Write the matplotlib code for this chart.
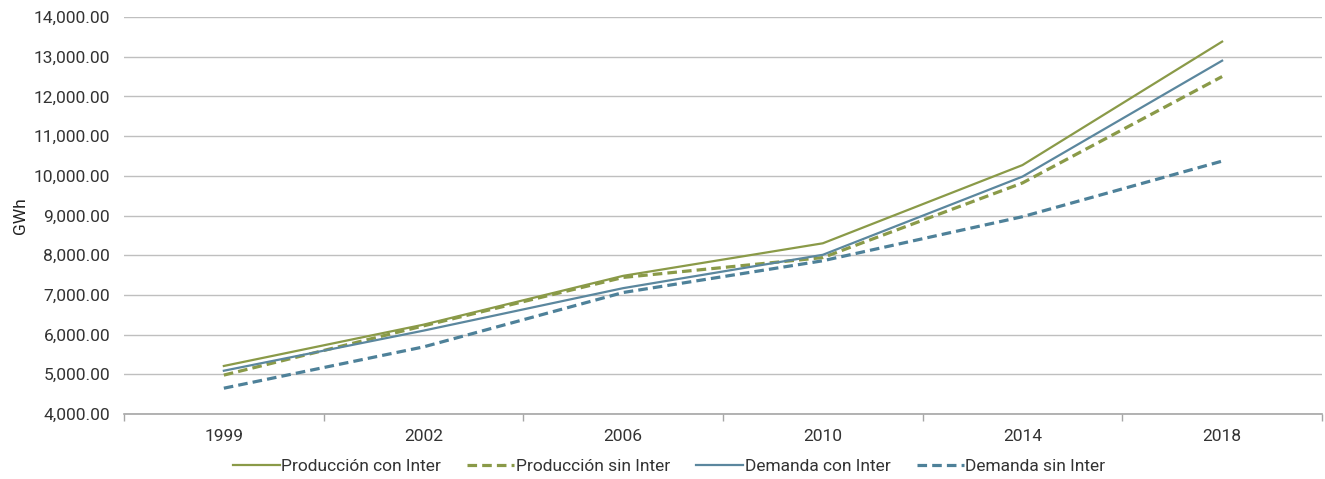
import matplotlib
matplotlib.use("Agg")
import numpy as np
from matplotlib import pyplot as plt
from matplotlib.ticker import FuncFormatter

# Datos
anios = ["1999", "2002", "2006", "2010", "2014", "2018"]
produccion_con = [5210, 6250, 7480, 8300, 10270, 13380]
produccion_sin = [4980, 6220, 7440, 7940, 9820, 12500]
demanda_con = [5090, 6100, 7170, 8010, 9980, 12900]
demanda_sin = [4650, 5690, 7060, 7860, 8970, 10370]

VERDE = "#8a9a48"
AZUL = "#5b879e"
AZUL_OSCURO = "#4e8199"

plt.rcParams["font.family"] = ["Roboto", "DejaVu Sans"]

fig = plt.figure(figsize=(13.25, 4.79), dpi=100)
ax = fig.add_axes([0.0936, 0.1357, 0.9041, 0.8288])

x = np.arange(len(anios))
ax.plot(x, produccion_con, color=VERDE, lw=1.6, label="Producción con Inter")
ax.plot(x, produccion_sin, color=VERDE, lw=2.3, dashes=(3, 1.6), label="Producción sin Inter")
ax.plot(x, demanda_con, color=AZUL, lw=1.6, label="Demanda con Inter")
ax.plot(x, demanda_sin, color=AZUL_OSCURO, lw=2.3, dashes=(3, 1.6), label="Demanda sin Inter")

ax.set_xlim(-0.5, len(anios) - 0.5)
ax.set_ylim(4000, 14000)
ax.set_yticks(np.arange(4000, 14001, 1000))
ax.yaxis.set_major_formatter(FuncFormatter(lambda v, p: f"{v:,.2f}"))

# Etiquetas centradas, marcas entre categorías
ax.set_xticks(x)
ax.set_xticklabels(anios)
ax.set_xticks(np.arange(-0.5, len(anios)), minor=True)
ax.tick_params(axis="x", which="major", length=0, pad=11, labelsize=12.5, colors="#333333")
ax.tick_params(axis="x", which="minor", length=5, color="#a6a6a6", width=1)
ax.tick_params(axis="y", length=0, pad=10, labelsize=12.5, colors="#333333")

ax.grid(axis="y", color="#bfbfbf", lw=1)
ax.set_axisbelow(True)
for lado in ["top", "right", "left"]:
    ax.spines[lado].set_visible(False)
ax.spines["bottom"].set_color("#a6a6a6")
ax.spines["bottom"].set_linewidth(1.2)

ax.set_ylabel("GWh", fontsize=12.5, color="#222222", labelpad=4)

fig.legend(
    loc="lower center",
    bbox_to_anchor=(0.505, -0.022),
    ncol=4,
    frameon=False,
    fontsize=12.5,
    handlelength=2.7,
    handletextpad=0.1,
    columnspacing=1.5,
    labelcolor="#333333",
)

fig.savefig("out.png", dpi=100)
